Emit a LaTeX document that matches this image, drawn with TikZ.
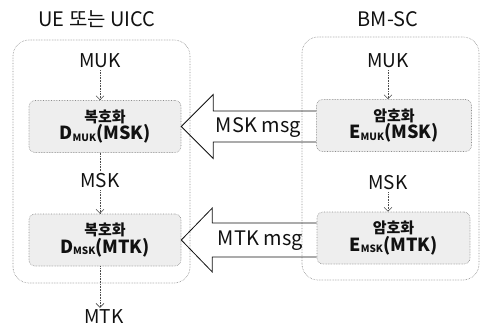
\documentclass[tikz,border=0pt]{standalone}
\usepackage{fontspec}
\setmainfont{Noto Sans CJK KR}
\usetikzlibrary{arrows.meta,positioning,calc}
\definecolor{dotgray}{HTML}{8C8C8C}
\definecolor{boxfill}{HTML}{EEEEEE}
\definecolor{ink}{HTML}{111111}
\newcommand{\keysub}[1]{\raisebox{-1.5pt}{\fontsize{10}{10}\selectfont\bfseries #1}}
\tikzset{
  domainbox/.style={
    draw=dotgray, densely dotted, line width=0.6pt, rounded corners=16pt
  },
  cryptbox/.style={
    rectangle, draw=dotgray, densely dotted, fill=boxfill,
    rounded corners=6pt, line width=0.6pt,
    minimum width=#1, minimum height=52pt,
    align=center, inner sep=2pt, font=\bfseries, text=ink
  },
  cryptbox/.default=152pt,
  keylabel/.style={
    font=\fontsize{19}{22}\selectfont, text=ink, inner sep=2pt
  },
  titlelabel/.style={
    font=\fontsize{20}{22}\selectfont, text=ink, anchor=base
  },
  msglabel/.style={
    font=\fontsize{20}{22}\selectfont, text=ink, inner sep=1pt
  },
  flowarrow/.style={
    densely dotted, draw=black!70, line width=0.6pt,
    -{Straight Barb[length=4pt,width=8pt]}
  },
  flowline/.style={
    densely dotted, draw=black!70, line width=0.6pt
  },
  hollowarrow/.style={
    draw=ink, line width=0.8pt, line join=miter
  },
}

\begin{document}
\begin{tikzpicture}[x=1pt,y=1pt]
    \useasboundingbox (0,0) rectangle (484,333);

    % domains
    \draw[domainbox] (13,50) rectangle (190,293);
    \draw[domainbox] (302,53) rectangle (479,296);
    \node[titlelabel] (ue) at (97,307) {UE 또는 UICC};
    \node[titlelabel] (bmsc) at (388,307) {BM-SC};

    % crypto boxes
    \node[cryptbox] (dec1) at (105,206.5) {%
        {\fontsize{15}{17}\selectfont 복호화}\\
        {\fontsize{18}{20}\selectfont D\keysub{MUK}(MSK)}};
    \node[cryptbox] (dec2) at (105,93) {%
        {\fontsize{15}{17}\selectfont 복호화}\\
        {\fontsize{18}{20}\selectfont D\keysub{MSK}(MTK)}};
    \node[cryptbox=155pt] (enc1) at (394,207.5) {%
        {\fontsize{15}{17}\selectfont 암호화}\\
        {\fontsize{18}{20}\selectfont E\keysub{MUK}(MSK)}};
    \node[cryptbox=153pt] (enc2) at (393.5,95) {%
        {\fontsize{15}{17}\selectfont 암호화}\\
        {\fontsize{18}{20}\selectfont E\keysub{MSK}(MTK)}};

    % keys
    \node[keylabel] (muk1) at (100,272) {MUK};
    \node[keylabel] (msk1) at (100,152) {MSK};
    \node[keylabel] (mtk)  at (104,16)  {MTK};
    \node[keylabel] (muk2) at (388,272) {MUK};
    \node[keylabel] (msk2) at (388,150) {MSK};

    % key flow
    \draw[flowarrow] (muk1.south) -- (muk1.south |- dec1.north);
    \draw[flowline]  (muk1.south |- dec1.south) -- (msk1.north);
    \draw[flowarrow] (msk1.south) -- (msk1.south |- dec2.north);
    \draw[flowarrow] (msk1.south |- dec2.south) -- (msk1.south |- mtk.north);
    \draw[flowarrow] (muk2.south) -- (muk2.south |- enc1.north);
    \draw[flowarrow] (msk2.south) -- (msk2.south |- enc2.north);

    % messages
    \path (enc1.west |- dec1.east) coordinate (end1);
    \path (enc2.west |- dec2.east) coordinate (end2);
    \draw[hollowarrow] ($(end1)+(0,15.5)$) -- ($(dec1.east)+(32,15.5)$)
        -- ($(dec1.east)+(32,32)$) -- (dec1.east) -- ($(dec1.east)+(32,-32)$)
        -- ($(dec1.east)+(32,-15.5)$) -- ($(end1)+(0,-15.5)$);
    \draw[hollowarrow] ($(end2)+(0,17)$) -- ($(dec2.east)+(31,17)$)
        -- ($(dec2.east)+(31,32)$) -- (dec2.east) -- ($(dec2.east)+(31,-32)$)
        -- ($(dec2.east)+(31,-17)$) -- ($(end2)+(0,-17)$);
    \node[msglabel] (mskmsg) at ($(dec1.east)+(77,-1)$) {MSK msg};
    \node[msglabel] (mtkmsg) at ($(dec2.east)+(79,-1)$) {MTK msg};
\end{tikzpicture}
\end{document}
